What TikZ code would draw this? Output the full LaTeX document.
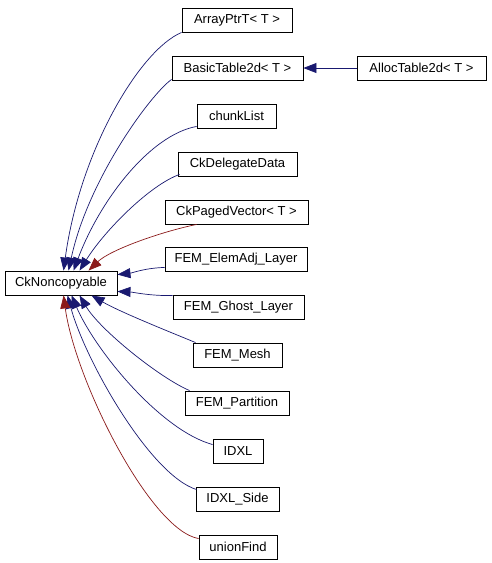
\documentclass[tikz,border=0pt]{standalone}
\usepackage{fontspec}
\setmainfont{Liberation Sans}
\usetikzlibrary{arrows.meta}
\definecolor{pubblue}{HTML}{191970}
\definecolor{privred}{HTML}{8B1A1A}
\tikzset{
  cls/.style={draw=black, line width=0.9pt, fill=white, minimum height=24pt, inner sep=0pt, font=\fontsize{13}{15}\selectfont},
  pub/.style={draw=pubblue, line width=0.7pt, -{Triangle[length=13pt,width=10pt]}, fill=none},
  priv/.style={draw=privred, line width=0.7pt, -{Triangle[length=13pt,width=10pt]}},
}
\begin{document}
\begin{tikzpicture}[x=1pt,y=-1pt]
\useasboundingbox[fill=white] (0,0) rectangle (491,563);
\node[cls, minimum width=112pt] (ck) at (61,283) {CkNoncopyable};
\node[cls, minimum width=110pt] (arr) at (237,20) {ArrayPtrT< T >};
\node[cls, minimum width=131pt] (basic) at (237.5,68) {BasicTable2d< T >};
\node[cls, minimum width=129pt] (alloc) at (421.5,68) {AllocTable2d< T >};
\node[cls, minimum width=79pt] (chunk) at (236.5,116) {chunkList};
\node[cls, minimum width=119pt] (deleg) at (237.5,164) {CkDelegateData};
\node[cls, minimum width=143pt] (paged) at (236.5,212) {CkPagedVector< T >};
\node[cls, minimum width=142pt] (elem) at (236,259) {FEM\_ElemAdj\_Layer};
\node[cls, minimum width=131pt] (ghost) at (238.5,307) {FEM\_Ghost\_Layer};
\node[cls, minimum width=89pt] (mesh) at (237.5,355) {FEM\_Mesh};
\node[cls, minimum width=104pt] (part) at (237,403) {FEM\_Partition};
\node[cls, minimum width=50pt] (idxl) at (238,451) {IDXL};
\node[cls, minimum width=83pt] (side) at (237.5,499) {IDXL\_Side};
\node[cls, minimum width=78pt] (union) at (238,547) {unionFind};

\draw[pub] (alloc.west) -- (basic.east);

\draw[pub] (arr.south west) .. controls (140,50) and (80,150) .. ([xshift=59pt]ck.north west);
\draw[pub] ([yshift=1pt]basic.south west) .. controls (150,95) and (88,180) .. ([xshift=64pt]ck.north west);
\draw[pub] ([yshift=2pt]chunk.south west) .. controls (150,135) and (100,200) .. ([xshift=69pt]ck.north west);
\draw[pub] ([yshift=2pt,xshift=2pt]deleg.south west) .. controls (150,185) and (105,230) .. ([xshift=75pt]ck.north west);
\draw[priv] ([xshift=32pt]paged.south west) .. controls (160,232) and (110,250) .. ([xshift=84pt]ck.north west);
\draw[pub] ([yshift=4pt]elem.south west) .. controls (145,268) and (132,273) .. ([yshift=-4pt]ck.north east);
\draw[pub] ([yshift=-1pt]ghost.north west) .. controls (150,296) and (132,292) .. ([yshift=4pt]ck.south east);
\draw[pub] ([xshift=3pt]mesh.north west) .. controls (170,332) and (120,312) .. ([xshift=87pt]ck.south west);
\draw[pub] ([xshift=5pt]part.north west) .. controls (160,378) and (100,330) .. ([xshift=75pt]ck.south west);
\draw[pub] ([yshift=-6pt]idxl.north west) .. controls (160,430) and (95,350) .. ([xshift=67pt]ck.south west);
\draw[pub] ([yshift=-3pt,xshift=1pt]side.north west) .. controls (150,475) and (85,360) .. ([xshift=63pt]ck.south west);
\draw[priv] ([yshift=-4pt]union.north west) .. controls (150,530) and (75,380) .. ([xshift=59pt]ck.south west);
\end{tikzpicture}
\end{document}
